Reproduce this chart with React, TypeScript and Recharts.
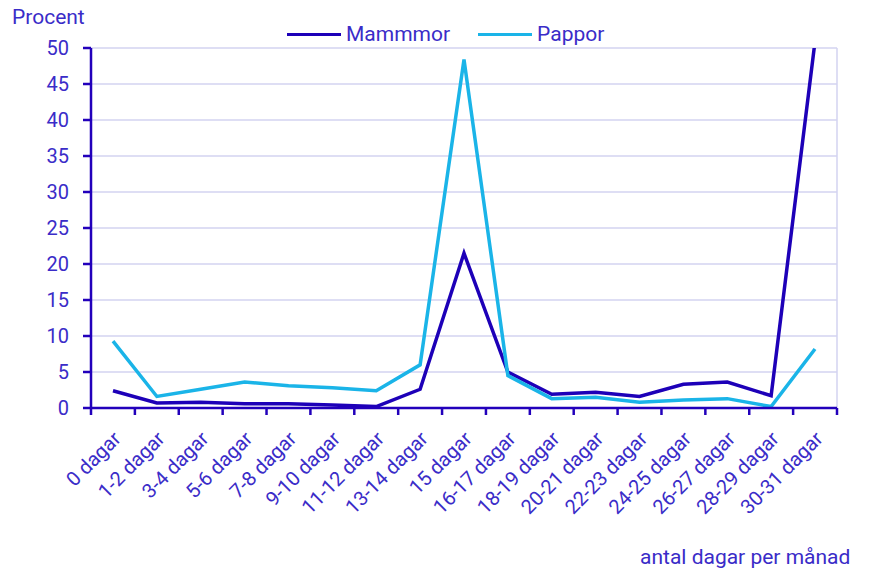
import React from "react";
import { LineChart, Line, XAxis, YAxis, CartesianGrid, Legend } from "recharts";

const categories = [
  "0 dagar", "1-2 dagar", "3-4 dagar", "5-6 dagar", "7-8 dagar", "9-10 dagar",
  "11-12 dagar", "13-14 dagar", "15 dagar", "16-17 dagar", "18-19 dagar",
  "20-21 dagar", "22-23 dagar", "24-25 dagar", "26-27 dagar", "28-29 dagar", "30-31 dagar",
];
const mammor = [2.4, 0.7, 0.8, 0.6, 0.6, 0.4, 0.2, 2.6, 21.5, 5.0, 1.9, 2.2, 1.6, 3.3, 3.6, 1.7, 50.9];
const pappor = [9.3, 1.6, 2.6, 3.6, 3.1, 2.8, 2.4, 6.0, 48.4, 4.5, 1.3, 1.5, 0.8, 1.1, 1.3, 0.2, 8.2];
const yTicks = [0, 5, 10, 15, 20, 25, 30, 35, 40, 45, 50];
const boundaryTicks = categories.map((_, i) => i).concat([categories.length]);

const data = categories.map((c, i) => ({ name: c, idx: i, Mammmor: mammor[i], Pappor: pappor[i] }));

const TEXT = "#3a2cc8";
const AXIS = "#2200bb";
const MAMMOR = "#1d00b8";
const PAPPOR = "#1ab4e8";
const GRID = "#d3d3f0";
const FONT = "Roboto, sans-serif";

function XTick(props: any) {
  const { x, y, payload } = props;
  return (
    <g transform={`translate(${x + 9},${y + 31})`}>
      <text transform="rotate(-45)" textAnchor="end" fill={TEXT} fontSize={20} fontFamily={FONT}>
        {payload.value}
      </text>
    </g>
  );
}

const NoLabel = () => <g />;

function LegendContent() {
  const items = [
    { label: "Mammmor", color: MAMMOR },
    { label: "Pappor", color: PAPPOR },
  ];
  return (
    <div style={{ display: "flex", gap: 28, fontFamily: FONT, fontSize: 21, color: TEXT, whiteSpace: "nowrap" }}>
      {items.map((it) => (
        <div key={it.label} style={{ display: "flex", alignItems: "center" }}>
          <span style={{ display: "inline-block", width: 54, height: 3, background: it.color, marginRight: 5 }} />
          {it.label}
        </div>
      ))}
    </div>
  );
}

export default function App() {
  return (
    <div style={{ position: "absolute", left: 0, top: 0, width: 869, height: 572, background: "#fff" }}>
      <div style={{ position: "absolute", left: 12, top: 5, fontFamily: FONT, fontSize: 21, color: TEXT }}>Procent</div>
      <div style={{ position: "absolute", left: 640, top: 545, fontFamily: FONT, fontSize: 21, color: TEXT, whiteSpace: "nowrap" }}>
        antal dagar per månad
      </div>
      <LineChart width={869} height={572} data={data} margin={{ top: 48, right: 32, left: 0, bottom: 0 }}>
        <CartesianGrid
          stroke={GRID}
          strokeWidth={1.5}
          verticalCoordinatesGenerator={(p: any) => [p.offset.left + p.offset.width]}
        />
        <XAxis
          xAxisId="a"
          type="number"
          dataKey="idx"
          domain={[0, categories.length]}
          ticks={boundaryTicks}
          interval={0}
          allowDataOverflow
          height={1}
          tick={<NoLabel />}
          tickSize={7}
          stroke={AXIS}
          strokeWidth={2.5}
          tickLine={{ stroke: AXIS, strokeWidth: 2.5 }}
        />
        <XAxis
          xAxisId="b"
          dataKey="name"
          interval={0}
          height={163}
          padding={{ left: 22, right: 22 }}
          tick={<XTick />}
          tickSize={0}
          tickMargin={0}
          axisLine={false}
          tickLine={false}
        />
        <YAxis
          width={91}
          domain={[0, 50]}
          ticks={yTicks}
          allowDataOverflow
          tickSize={8}
          tickMargin={14}
          stroke={AXIS}
          strokeWidth={2.5}
          tickLine={{ stroke: AXIS, strokeWidth: 2.5 }}
          tick={{ fill: TEXT, fontSize: 20, fontFamily: FONT }}
        />
        <Legend
          verticalAlign="middle"
          align="center"
          content={<LegendContent />}
          wrapperStyle={{ top: 22, left: 287, width: "auto" }}
        />
        <Line xAxisId="b" dataKey="Mammmor" stroke={MAMMOR} strokeWidth={3.5} dot={false} isAnimationActive={false} />
        <Line xAxisId="b" dataKey="Pappor" stroke={PAPPOR} strokeWidth={3.5} dot={false} isAnimationActive={false} />
      </LineChart>
    </div>
  );
}
